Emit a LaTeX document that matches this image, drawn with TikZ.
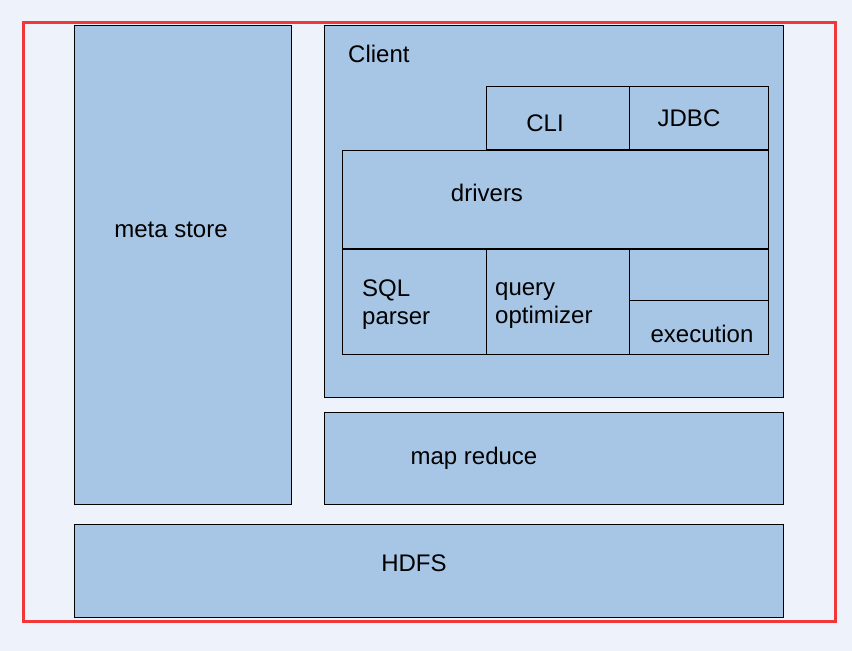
\documentclass[tikz,border=0pt]{standalone}
\usepackage{fontspec}
\setmainfont{Liberation Sans}
\definecolor{pagebg}{RGB}{238,242,250}
\definecolor{boxfill}{RGB}{167,198,229}
\definecolor{frame}{RGB}{240,56,56}
\tikzset{
  box/.style={draw=black,fill=boxfill,line width=1pt},
  lbl/.style={inner sep=0pt,font=\fontsize{24}{28}\selectfont},
}
\begin{document}
\begin{tikzpicture}[x=1pt,y=-1pt]
\fill [pagebg] (0,0) rectangle (852,651);
\useasboundingbox (0,0) rectangle (852,651);
\draw [frame,line width=3pt] (23.5,22.5) rectangle (835.5,621.5);
% left column
\filldraw [box] (74,25) rectangle (291,504);
% client block
\filldraw [box] (324,25) rectangle (783,397);
\filldraw [box] (486,86) rectangle (629,149);
\filldraw [box] (629,86) rectangle (768,149);
\filldraw [box] (342,150) rectangle (768,248);
\filldraw [box] (342,249) rectangle (486,354);
\filldraw [box] (486,249) rectangle (629,354);
\filldraw [box] (629,249) rectangle (768,300);
\filldraw [box] (629,300) rectangle (768,354);
% bottom blocks
\filldraw [box] (324,412) rectangle (783,504);
\filldraw [box] (74,524) rectangle (783,617);
% labels
\node [lbl,anchor=base] (meta) at (171,237) {meta store};
\node [lbl,anchor=base west] (client) at (348,62) {Client};
\node [lbl,anchor=base] (cli) at (545,131) {CLI};
\node [lbl,anchor=base] (jdbc) at (689,126) {JDBC};
\node [lbl,anchor=base] (drivers) at (487,201) {drivers};
\node [lbl,anchor=base west,align=left] (sql) at (362,324) {SQL\\parser};
\node [lbl,anchor=base west,align=left] (query) at (495,323) {query\\optimizer};
\node [lbl,anchor=base] (exec) at (702,342) {execution};
\node [lbl,anchor=base] (mapred) at (474,464) {map reduce};
\node [lbl,anchor=base] (hdfs) at (414,571) {HDFS};
\end{tikzpicture}
\end{document}
